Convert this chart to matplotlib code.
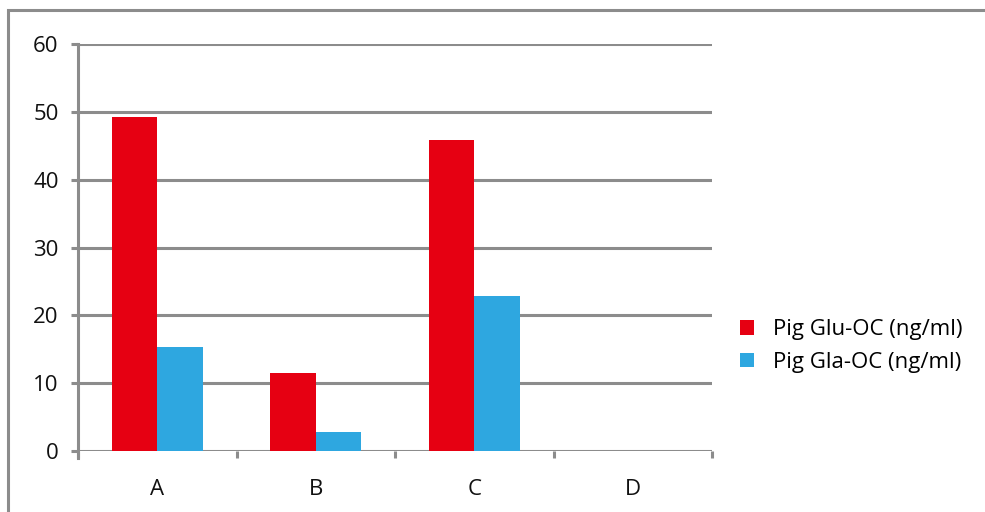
import matplotlib
matplotlib.use("Agg")
import matplotlib.pyplot as plt
import matplotlib.patches as mpatches
import numpy as np

categories = ["A", "B", "C", "D"]
glu_values = [49.3, 11.5, 45.9, 0.0]
gla_values = [15.3, 2.8, 22.9, 0.0]
series_labels = ["Pig Glu-OC (ng/ml)", "Pig Gla-OC (ng/ml)"]
y_ticks = [0, 10, 20, 30, 40, 50, 60]

RED = "#E60012"
BLUE = "#2EA7E0"
GRID = "#8C8C8C"
FS = 16

plt.rcParams["font.family"] = ["Open Sans", "DejaVu Sans"]

fig = plt.figure(figsize=(9.85, 5.12), dpi=100)
ax = fig.add_axes([78 / 985, 1 - 451 / 512, (712 - 78) / 985, (451 - 44) / 512])

x = np.arange(len(categories))
w = 1 / 3.5
ax.bar(x - w / 2, glu_values, width=w, color=RED, label=series_labels[0], zorder=3)
ax.bar(x + w / 2, gla_values, width=w, color=BLUE, label=series_labels[1], zorder=3)

ax.set_xlim(-0.5, len(categories) - 0.5)
ax.set_ylim(0, 60)
ax.set_yticks(y_ticks)
ax.set_yticklabels([str(v) for v in y_ticks])
ax.yaxis.grid(True, color=GRID, linewidth=2.2, zorder=1)
ax.set_axisbelow(True)

# category labels at centres, tick marks at boundaries
ax.set_xticks(x)
ax.set_xticklabels(categories)
ax.set_xticks(np.arange(-0.5, len(categories)), minor=True)
ax.tick_params(axis="x", which="major", length=0, pad=20, labelsize=FS, colors="#111111")
ax.tick_params(axis="x", which="minor", length=5, width=2.2, color=GRID, direction="out")
ax.tick_params(axis="y", length=5, width=2.2, color=GRID, pad=9, labelsize=FS, labelcolor="#111111")

for side in ["top", "right", "bottom"]:
    ax.spines[side].set_visible(False)
ax.spines["left"].set_color(GRID)
ax.spines["left"].set_linewidth(2.2)
ax.spines["left"].set_bounds(-1, 60)
ax.spines["left"].set_zorder(4)

leg = fig.legend(
    loc="center left", bbox_to_anchor=(740 / 985, 1 - 346 / 512),
    frameon=False, fontsize=FS, handlelength=0.62, handleheight=0.62,
    handletextpad=0.85, labelspacing=0.5, borderpad=0, borderaxespad=0,
)

# outer chart frame
frame = mpatches.Rectangle(
    (8 / 985, -0.2), 1.2, 1 - 10 / 512 + 0.2, transform=fig.transFigure,
    fill=False, edgecolor=GRID, linewidth=2.2,
)
fig.patches.append(frame)

fig.savefig("out.png", dpi=100)
